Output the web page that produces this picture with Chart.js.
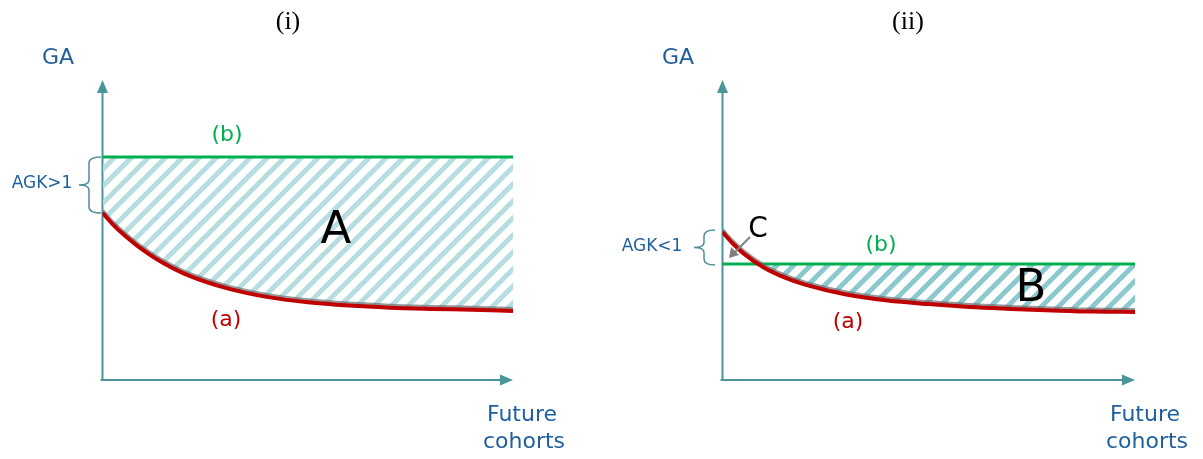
<!DOCTYPE html>
<html>
<head>
<meta charset="utf-8">
<script src="https://cdn.jsdelivr.net/npm/chart.js@4/dist/chart.umd.min.js"></script>
<style>
  body { margin: 0; background: #fff; }
  #wrap { position: relative; width: 1203px; height: 459px; overflow: hidden; }
  canvas { position: absolute; top: 0; }
</style>
</head>
<body>
<div id="wrap">
  <canvas id="c1" width="600" height="459" style="left:0"></canvas>
  <canvas id="c2" width="603" height="459" style="left:600px"></canvas>
</div>
<script>
// cohorts along the x axis (0 = now, 10 = far future)
const cohorts = [0, 0.25, 0.5, 1, 1.5, 2, 3, 4, 5, 6, 7, 8, 9, 10];

// panel (i): AGK > 1
const gaA_1 = [5.57, 5.19, 4.87, 4.32, 3.88, 3.54, 3.07, 2.77, 2.59, 2.48, 2.41, 2.37, 2.34, 2.3];
const gaB_1 = [7.43, 7.43, 7.43, 7.43, 7.43, 7.43, 7.43, 7.43, 7.43, 7.43, 7.43, 7.43, 7.43, 7.43];

// panel (ii): AGK < 1
const gaA_2 = [4.93, 4.55, 4.23, 3.75, 3.42, 3.18, 2.85, 2.65, 2.53, 2.43, 2.37, 2.32, 2.28, 2.27];
const gaB_2 = [3.87, 3.87, 3.87, 3.87, 3.87, 3.87, 3.87, 3.87, 3.87, 3.87, 3.87, 3.87, 3.87, 3.87];

const RED = '#c00000';
const GREEN = '#00b050';
const AXIS = '#4a9599';
const BLUE = '#1f5f9e';
const FONT = '"DejaVu Sans", Verdana, sans-serif';

// diagonal "/" stripes
function hatch(color) {
  const n = 17;
  const t = document.createElement('canvas');
  t.width = n; t.height = n;
  const g = t.getContext('2d');
  g.strokeStyle = color;
  g.lineWidth = 5;
  g.beginPath();
  g.moveTo(0, n); g.lineTo(n, 0);
  g.moveTo(-4, 4); g.lineTo(4, -4);
  g.moveTo(n - 4, n + 4); g.lineTo(n + 4, n - 4);
  g.stroke();
  return g.createPattern(t, 'repeat');
}

function pts(ys) {
  return cohorts.map((c, i) => ({ x: c, y: ys[i] }));
}

function arrowHead(ctx, x, y, dir, len, half, color) {
  ctx.fillStyle = color;
  ctx.beginPath();
  if (dir === 'up') {
    ctx.moveTo(x, y); ctx.lineTo(x - half, y + len); ctx.lineTo(x + half, y + len);
  } else if (dir === 'right') {
    ctx.moveTo(x, y); ctx.lineTo(x - len, y - half); ctx.lineTo(x - len, y + half);
  }
  ctx.closePath();
  ctx.fill();
}

function brace(ctx, right, left, tip, top, bottom) {
  const mid = (top + bottom) / 2;
  ctx.strokeStyle = '#4d8f99';
  ctx.lineWidth = 1.5;
  ctx.beginPath();
  ctx.moveTo(right, top);
  ctx.quadraticCurveTo(left, top, left, top + 6);
  ctx.lineTo(left, mid - 5);
  ctx.quadraticCurveTo(left, mid, tip, mid);
  ctx.quadraticCurveTo(left, mid, left, mid + 5);
  ctx.lineTo(left, bottom - 6);
  ctx.quadraticCurveTo(left, bottom, right, bottom);
  ctx.stroke();
}

function text(ctx, s, x, y, size, color, family) {
  ctx.font = size + 'px ' + (family || FONT);
  ctx.fillStyle = color;
  ctx.textAlign = 'center';
  ctx.textBaseline = 'middle';
  ctx.fillText(s, x, y);
}

// axes with arrows, braces and all the labels
const decor = {
  id: 'decor',
  beforeDatasetDraw(chart, args) {
    if (args.index === 0) {
      const ctx = chart.ctx;
      ctx.save();
      ctx.shadowColor = 'rgba(110,110,110,0.7)';
      ctx.shadowOffsetY = -2;
      ctx.shadowBlur = 0;
    }
  },
  afterDatasetDraw(chart, args) {
    if (args.index === 0) chart.ctx.restore();
  },
  beforeDatasetsDraw(chart) {
    const ctx = chart.ctx;
    const x = chart.scales.x, y = chart.scales.y;
    const x0 = x.getPixelForValue(0), y0 = y.getPixelForValue(0);
    const top = y.getPixelForValue(10), right = x.getPixelForValue(10);
    ctx.save();
    ctx.strokeStyle = AXIS;
    ctx.lineWidth = 2;
    ctx.beginPath();
    ctx.moveTo(x0, y0); ctx.lineTo(x0, top + 10);
    ctx.moveTo(x0 - 2, y0); ctx.lineTo(right - 10, y0);
    ctx.stroke();
    arrowHead(ctx, x0, top, 'up', 13, 5.5, AXIS);
    arrowHead(ctx, right, y0, 'right', 13, 5.5, AXIS);
    ctx.restore();
  },
  afterDraw(chart, args, o) {
    const ctx = chart.ctx;
    ctx.save();
    text(ctx, o.title, o.titleX, 22, 26, '#000', '"Liberation Serif", "Times New Roman", serif');
    text(ctx, 'GA', o.gaX, 58, 22, BLUE);
    text(ctx, 'Future', o.fcX, 415, 22, BLUE);
    text(ctx, 'cohorts', o.fcX + 2, 442, 22, BLUE);
    text(ctx, '(b)', o.bX, o.bY, 22, GREEN);
    text(ctx, '(a)', o.aX, o.aY, 22, RED);
    text(ctx, o.big, o.bigX, o.bigY, 45, '#000');
    text(ctx, o.agk, o.agkX, o.agkY, 17, BLUE);
    brace(ctx, o.brR, o.brL, o.brT, o.brTop, o.brBot);
    if (o.c) {
      text(ctx, 'C', o.c.x, o.c.y, 28, '#000');
      ctx.strokeStyle = '#808080';
      ctx.lineWidth = 2;
      ctx.beginPath();
      ctx.moveTo(o.c.x0, o.c.y0); ctx.lineTo(o.c.x1 + 5, o.c.y1 - 5);
      ctx.stroke();
      ctx.fillStyle = '#808080';
      ctx.beginPath();
      ctx.moveTo(o.c.x1, o.c.y1);
      ctx.lineTo(o.c.x1 + 2, o.c.y1 - 11);
      ctx.lineTo(o.c.x1 + 10, o.c.y1 - 3);
      ctx.closePath();
      ctx.fill();
    }
    ctx.restore();
  }
};

function makeChart(id, red, green, fillColor, pad, labels) {
  return new Chart(document.getElementById(id), {
    type: 'line',
    data: {
      datasets: [
        { data: pts(red), borderColor: RED, borderWidth: 4, pointRadius: 0,
          cubicInterpolationMode: 'monotone', fill: false },
        { data: pts(green), borderColor: GREEN, borderWidth: 3, pointRadius: 0,
          fill: { target: 0, above: hatch(fillColor), below: 'rgba(0,0,0,0)' } }
      ]
    },
    options: {
      responsive: false,
      animation: false,
      layout: { padding: pad },
      scales: {
        x: { type: 'linear', min: 0, max: 10, display: false },
        y: { min: 0, max: 10, display: false }
      },
      plugins: { legend: { display: false }, tooltip: { enabled: false }, decor: labels }
    },
    plugins: [decor]
  });
}

makeChart('c1', gaA_1, gaB_1, '#b7dde0',
  { left: 102.5, right: 87, top: 80, bottom: 79 },
  { title: '(i)', titleX: 288, gaX: 58, fcX: 522, bX: 227, bY: 135, aX: 226, aY: 320,
    big: 'A', bigX: 336, bigY: 231, agk: 'AGK>1', agkX: 42, agkY: 184,
    brR: 101, brL: 89, brT: 79, brTop: 157, brBot: 213 });

makeChart('c2', gaA_2, gaB_2, '#8cc9cf',
  { left: 122.5, right: 68, top: 80, bottom: 79 },
  { title: '(ii)', titleX: 308, gaX: 78, fcX: 545, bX: 281, bY: 245, aX: 248, aY: 322,
    big: 'B', bigX: 431, bigY: 289, agk: 'AGK<1', agkX: 52, agkY: 247,
    brR: 115, brL: 104, brT: 94, brTop: 230, brBot: 265,
    c: { x: 158, y: 230, x0: 150, y0: 237, x1: 129, y1: 258 } });
</script>
</body>
</html>
